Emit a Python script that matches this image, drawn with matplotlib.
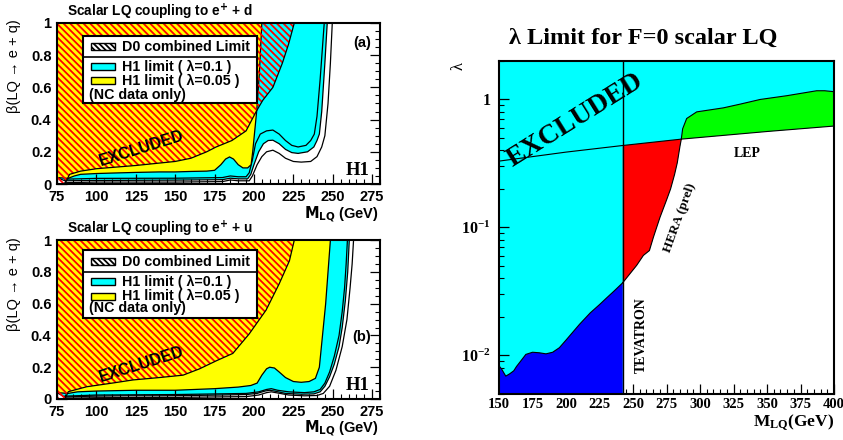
import matplotlib.pyplot as plt
from matplotlib.patches import Polygon, Rectangle
from matplotlib.ticker import MultipleLocator, LogLocator, NullFormatter

plt.rcParams['font.family'] = ['Liberation Sans', 'DejaVu Sans']
plt.rcParams['hatch.linewidth'] = 1.3
plt.rcParams['mathtext.fontset'] = 'custom'
plt.rcParams['mathtext.rm'] = 'Liberation Serif:bold'
plt.rcParams['mathtext.bf'] = 'Liberation Serif:bold'
plt.rcParams['mathtext.it'] = 'Liberation Serif:bold'

CYAN, YELLOW, RED, BLUE, GREEN = '#00FFFF', '#FFFF00', '#FF0000', '#0000FF', '#00FF00'

# ---------- e+ d : beta vs M_LQ ----------
d0_d_m = [75, 80, 83, 90, 100, 125, 150, 160, 170, 176, 186, 195, 201.4, 205.6, 212, 218, 222, 225.6]
d0_d_b = [0, 0, 0.06, 0.08, 0.095, 0.115, 0.14, 0.16, 0.2, 0.23, 0.27, 0.33, 0.45, 0.52, 0.6, 0.75, 0.87, 1.0]

ylw_d_m = [75, 82, 86, 90, 100, 110, 125, 140, 150, 160, 170, 175, 179, 182, 184.5, 187, 190, 193, 196, 198.2, 199.2, 200.3, 201.8, 203.5, 205]
ylw_d_b = [0.04, 0.035, 0.05, 0.06, 0.065, 0.068, 0.072, 0.075, 0.075, 0.078, 0.08, 0.085, 0.12, 0.155, 0.168, 0.155, 0.12, 0.1, 0.1, 0.12, 0.2, 0.31, 0.46, 0.7, 1.0]

h1_d_m = [75, 80, 100, 150, 180, 185, 190, 196, 198, 200, 203, 206, 209, 212, 216, 220, 224, 228, 234, 238, 240, 241.5, 243, 245, 246.5]
h1_d_b = [0.04, 0.02, 0.022, 0.024, 0.027, 0.036, 0.032, 0.032, 0.06, 0.12, 0.2, 0.25, 0.27, 0.272, 0.25, 0.215, 0.195, 0.19, 0.2, 0.23, 0.27, 0.31, 0.45, 0.75, 1.0]

hi_d_m = [80, 100, 150, 180, 185, 190, 195, 197, 199, 201, 204, 208, 212, 216, 220, 224, 228, 233, 236, 238.3, 240, 242, 244.6]
hi_d_b = [0.03, 0.035, 0.036, 0.04, 0.05, 0.045, 0.045, 0.07, 0.15, 0.25, 0.31, 0.33, 0.335, 0.31, 0.27, 0.24, 0.23, 0.24, 0.27, 0.31, 0.42, 0.65, 1.0]

lo_d_m = [80, 100, 150, 180, 185, 190, 197, 199, 202, 205, 208, 212, 216, 220, 225, 230, 236, 240, 243, 245, 247, 248.5, 249.7]
lo_d_b = [0.008, 0.012, 0.012, 0.015, 0.025, 0.02, 0.02, 0.05, 0.12, 0.17, 0.2, 0.21, 0.19, 0.16, 0.14, 0.136, 0.14, 0.17, 0.23, 0.3, 0.5, 0.75, 1.0]

# ---------- e+ u : beta vs M_LQ ----------
d0_u_m = [75, 80, 82.2, 93.8, 110, 123.3, 140, 155, 165.5, 176, 186.6, 197, 207.7, 216, 222.5, 225.6]
d0_u_b = [0, 0, 0.046, 0.077, 0.1, 0.12, 0.135, 0.15, 0.19, 0.24, 0.287, 0.41, 0.56, 0.725, 0.87, 1.0]

ylw_u_m = [75, 82, 88, 100, 125, 150, 175, 190, 198, 202, 205, 208, 210, 213, 216, 220, 225, 230, 235, 239, 241.5, 243.5, 245.5, 247, 248.5]
ylw_u_b = [0.04, 0.035, 0.045, 0.05, 0.055, 0.055, 0.065, 0.075, 0.085, 0.1, 0.15, 0.19, 0.2, 0.195, 0.17, 0.135, 0.11, 0.105, 0.11, 0.13, 0.2, 0.4, 0.6, 0.8, 1.0]

h1_u_m = [75, 80, 90, 100, 120, 140, 160, 180, 195, 202, 207, 210, 214, 220, 230, 238, 242, 245, 248, 251, 254, 256, 258, 259.5, 260.5]
h1_u_b = [0.04, 0.012, 0.016, 0.018, 0.02, 0.02, 0.022, 0.025, 0.028, 0.035, 0.05, 0.055, 0.048, 0.035, 0.03, 0.032, 0.045, 0.08, 0.14, 0.22, 0.33, 0.45, 0.62, 0.8, 1.0]

hi_u_m = [80, 100, 150, 195, 203, 208, 211, 215, 222, 232, 238, 242, 245, 248, 251, 254, 256, 257.5, 258.5, 259.3]
hi_u_b = [0.018, 0.025, 0.028, 0.035, 0.045, 0.06, 0.065, 0.055, 0.045, 0.04, 0.045, 0.06, 0.1, 0.17, 0.27, 0.4, 0.55, 0.7, 0.85, 1.0]

lo_u_m = [80, 100, 150, 195, 203, 208, 211, 215, 222, 232, 240, 244, 248, 252, 256, 259, 261, 262.3, 263.2]
lo_u_b = [0.005, 0.008, 0.01, 0.015, 0.025, 0.04, 0.045, 0.038, 0.025, 0.02, 0.022, 0.035, 0.08, 0.18, 0.33, 0.5, 0.7, 0.85, 1.0]

beta_ticks = [0, 0.2, 0.4, 0.6, 0.8, 1]
beta_labels = ['0', '0.2', '0.4', '0.6', '0.8', '1']
mass_ticks = [75, 100, 125, 150, 175, 200, 225, 250, 275]

key_labels = ['D0 combined Limit', 'H1 limit ( λ=0.1 )', 'H1 limit ( λ=0.05 )', '(NC data only)']

# ---------- lambda limit for F=0 scalar LQ ----------
tev_m = [150, 152, 155, 158, 161, 163, 166, 170, 175, 180, 185, 190, 195, 200, 210, 218, 225, 230, 236, 242.3]
tev_l = [0.0083, 0.0078, 0.0069, 0.0072, 0.0076, 0.0082, 0.009, 0.0102, 0.0106, 0.0105, 0.0103, 0.0106, 0.0115, 0.0132, 0.0175, 0.0215, 0.025, 0.028, 0.032, 0.037]

hera_m = [242.3, 246.5, 252.7, 257.7, 262.2, 265.2, 270.1, 275, 278, 281, 283, 285, 286]
hera_l = [0.037, 0.042, 0.0506, 0.0605, 0.066, 0.084, 0.12, 0.164, 0.2, 0.26, 0.32, 0.43, 0.49]

lep_m = [150, 200, 242.3, 286, 350, 400]
lep_l = [0.33, 0.388, 0.437, 0.49, 0.562, 0.62]

lep2_m = [286, 287, 290, 297.5, 317.4, 330, 344.8, 364.7, 387, 393, 400]
lep2_l = [0.49, 0.59, 0.71, 0.80, 0.86, 0.92, 1.0, 1.07, 1.17, 1.17, 1.15]

lam_ticks = [0.01, 0.1, 1]
lam_labels = [r'$\mathbf{10^{-2}}$', r'$\mathbf{10^{-1}}$', '1']
mlq_ticks = [150, 175, 200, 225, 250, 275, 300, 325, 350, 375, 400]


def draw_key(ax, y_box, y_sep, y_rows):
    tr = ax.transAxes
    ax.add_patch(Rectangle((0.08, y_box[0]), 0.539, y_box[1] - y_box[0], transform=tr,
                           facecolor='white', edgecolor='black', lw=1.5, zorder=5))
    ax.plot([0.08, 0.619], [y_sep, y_sep], transform=tr, color='black', lw=1.2, zorder=6)
    swatch = [dict(facecolor='white', hatch='\\\\\\\\\\\\'), dict(facecolor=CYAN), dict(facecolor=YELLOW)]
    for i, lab in enumerate(key_labels):
        if i < 3:
            ax.add_patch(Rectangle((0.104, y_rows[i] - 0.022), 0.076, 0.044, transform=tr,
                                   edgecolor='black', lw=1, zorder=6, **swatch[i]))
            x = 0.2
        else:
            x = 0.1
        ax.text(x, y_rows[i], lab, transform=tr, fontsize=10.3, fontweight='bold',
                va='center', ha='left', zorder=7)


def beta_panel(ax, d0, ylw, h1, hi, lo, title, tag, tag_y, key):
    ax.set_xlim(75, 280)
    ax.set_ylim(0, 1)
    # H1 lambda=0.1 exclusion
    pts = list(zip(*h1)) + [(75, 1)]
    ax.add_patch(Polygon(pts, closed=True, facecolor=CYAN, edgecolor='black', lw=0.9, zorder=1))
    ax.plot(*hi, color='black', lw=0.9, zorder=2)
    ax.plot(*lo, color='black', lw=0.9, zorder=2)
    # H1 lambda=0.05 exclusion
    pts = list(zip(*ylw)) + [(75, 1)]
    ax.add_patch(Polygon(pts, closed=True, facecolor=YELLOW, edgecolor='black', lw=0.9, zorder=3))
    # D0 combined limit
    pts = list(zip(*d0)) + [(75, 1)]
    ax.add_patch(Polygon(pts, closed=True, facecolor='none', edgecolor=RED, lw=0,
                         hatch='\\\\\\\\\\', zorder=4))
    ax.plot(*d0, color='black', lw=0.9, zorder=4)

    ax.text(0.262, 0.22, 'EXCLUDED', transform=ax.transAxes, fontsize=11.5, fontweight='bold',
            rotation=17.5, ha='center', va='center', zorder=7)
    draw_key(ax, *key)
    ax.text(0.944, tag_y, tag, transform=ax.transAxes, fontsize=10.5, fontweight='bold',
            ha='center', va='center', zorder=7)
    ax.text(0.93, 0.085, 'H1', transform=ax.transAxes, fontsize=13.5, fontweight='bold',
            family='Liberation Serif', ha='center', va='center', zorder=7)
    ax.text(0.03, 1.07, title, transform=ax.transAxes, fontsize=9.8, fontweight='bold',
            ha='left', va='center', math_fontfamily='dejavusans')
    ax.text(0.995, -0.19, r'$\mathbf{M_{LQ}}$ (GeV)', transform=ax.transAxes, fontsize=10.5,
            fontweight='bold', ha='right', va='center', math_fontfamily='dejavusans')
    ax.text(-0.133, 1.02, 'β(LQ → e + q)', transform=ax.transAxes, fontsize=10.5,
            rotation=90, ha='center', va='top')

    ax.set_xticks(mass_ticks, [str(m) for m in mass_ticks], fontsize=10.5, fontweight='bold')
    ax.set_yticks(beta_ticks, beta_labels, fontsize=10.5, fontweight='bold')
    ax.xaxis.set_minor_locator(MultipleLocator(5))
    ax.yaxis.set_minor_locator(MultipleLocator(0.05))
    ax.tick_params(which='both', direction='in', right=True, top=False, pad=4)
    ax.tick_params(which='major', length=7, width=0.9)
    ax.tick_params(which='minor', length=3.5, width=0.8)
    for s in ax.spines.values():
        s.set_linewidth(1.5)
        s.set_zorder(8)


fig = plt.figure(figsize=(8.43, 4.4), dpi=100)

ax1 = fig.add_axes([0.0676, 0.5818, 0.3832, 0.366])
beta_panel(ax1, (d0_d_m, d0_d_b), (ylw_d_m, ylw_d_b), (h1_d_m, h1_d_b), (hi_d_m, hi_d_b),
           (lo_d_m, lo_d_b), r'Scalar LQ coupling to e$^{\mathbf{+}}$ + d', '(a)', 0.876,
           ((0.503, 0.919), 0.789, (0.853, 0.729, 0.640, 0.553)))

ax2 = fig.add_axes([0.0676, 0.0932, 0.3832, 0.361])
beta_panel(ax2, (d0_u_m, d0_u_b), (ylw_u_m, ylw_u_b), (h1_u_m, h1_u_b), (hi_u_m, hi_u_b),
           (lo_u_m, lo_u_b), r'Scalar LQ coupling to e$^{\mathbf{+}}$ + u', '(b)', 0.392,
           ((0.509, 0.937), 0.80, (0.864, 0.738, 0.648, 0.570)))

# lambda limit panel
ax3 = fig.add_axes([0.592, 0.1045, 0.3974, 0.757])
ax3.set_facecolor(CYAN)
ax3.set_xlim(150, 400)
ax3.set_yscale('log')
ax3.set_ylim(0.005, 2)
lo_edge = 0.005

allowed = [(tev_m[-1], lo_edge)] + list(zip(hera_m, hera_l)) + \
    [(m, l) for m, l in zip(lep_m, lep_l) if m > hera_m[-1]] + [(lep_m[-1], lo_edge)]
ax3.add_patch(Polygon(allowed, closed=True, facecolor='white', edgecolor='none', zorder=1))

hera_poly = list(zip(hera_m, hera_l)) + [(tev_m[-1], lep_l[2])]
ax3.add_patch(Polygon(hera_poly, closed=True, facecolor=RED, edgecolor='none', zorder=2))

lep_low = [(m, l) for m, l in zip(lep_m, lep_l) if m >= lep2_m[0]]
lep_poly = lep_low + list(zip(lep2_m, lep2_l))[::-1]
ax3.add_patch(Polygon(lep_poly, closed=True, facecolor=GREEN, edgecolor='none', zorder=2))

tev_poly = list(zip(tev_m, tev_l)) + [(tev_m[-1], lo_edge), (tev_m[0], lo_edge)]
ax3.add_patch(Polygon(tev_poly, closed=True, facecolor=BLUE, edgecolor='none', zorder=2))

ax3.plot(tev_m, tev_l, color='black', lw=0.8, zorder=3)
ax3.plot(hera_m, hera_l, color='black', lw=0.8, zorder=3)
ax3.plot(lep_m, lep_l, color='black', lw=0.8, zorder=3)
ax3.plot(lep2_m, lep2_l, color='black', lw=0.8, zorder=3)
ax3.axvline(tev_m[-1], color='black', lw=1.0, zorder=3)

serif = dict(family='Liberation Serif', fontweight='bold')
ax3.text(206.7, 0.69, 'EXCLUDED', fontsize=20, rotation=32, ha='center', va='center', zorder=5, **serif)
ax3.text(335, 0.378, 'LEP', fontsize=10, ha='center', va='center', zorder=5, **serif)
ax3.text(285, 0.119, 'HERA (prel)', fontsize=9.5, rotation=70, ha='center', va='center',
         rotation_mode='anchor', zorder=5, **serif)
ax3.text(256.5, 0.0145, 'TEVATRON', fontsize=10, rotation=90, ha='center', va='center', zorder=5, **serif)

ax3.text(0.43, 1.068, 'λ Limit for F=0 scalar LQ', transform=ax3.transAxes, fontsize=17.5,
         ha='center', va='center', **serif)
ax3.text(-0.12, 0.985, 'λ', transform=ax3.transAxes, fontsize=12, rotation=90,
         family='Liberation Serif', ha='center', va='center')
ax3.text(1.0, -0.088, r'$\mathbf{M_{LQ}}$(GeV)', transform=ax3.transAxes, fontsize=12.5,
         ha='right', va='center', math_fontfamily='custom', **serif)

ax3.set_xticks(mlq_ticks, [str(m) for m in mlq_ticks], fontsize=10.5, **serif)
ax3.set_yticks(lam_ticks, lam_labels, fontsize=11.5, math_fontfamily='custom', **serif)
ax3.xaxis.set_minor_locator(MultipleLocator(5))
ax3.yaxis.set_minor_locator(LogLocator(base=10, subs=range(2, 10)))
ax3.yaxis.set_minor_formatter(NullFormatter())
ax3.tick_params(which='both', direction='in', top=False, right=False)
ax3.tick_params(which='major', length=7, width=0.9, pad=3)
ax3.tick_params(axis='y', which='major', pad=6)
ax3.tick_params(which='minor', length=3.5, width=0.8)
for s in ax3.spines.values():
    s.set_linewidth(1.5)
    s.set_zorder(8)

fig.savefig('out.png', dpi=100)
